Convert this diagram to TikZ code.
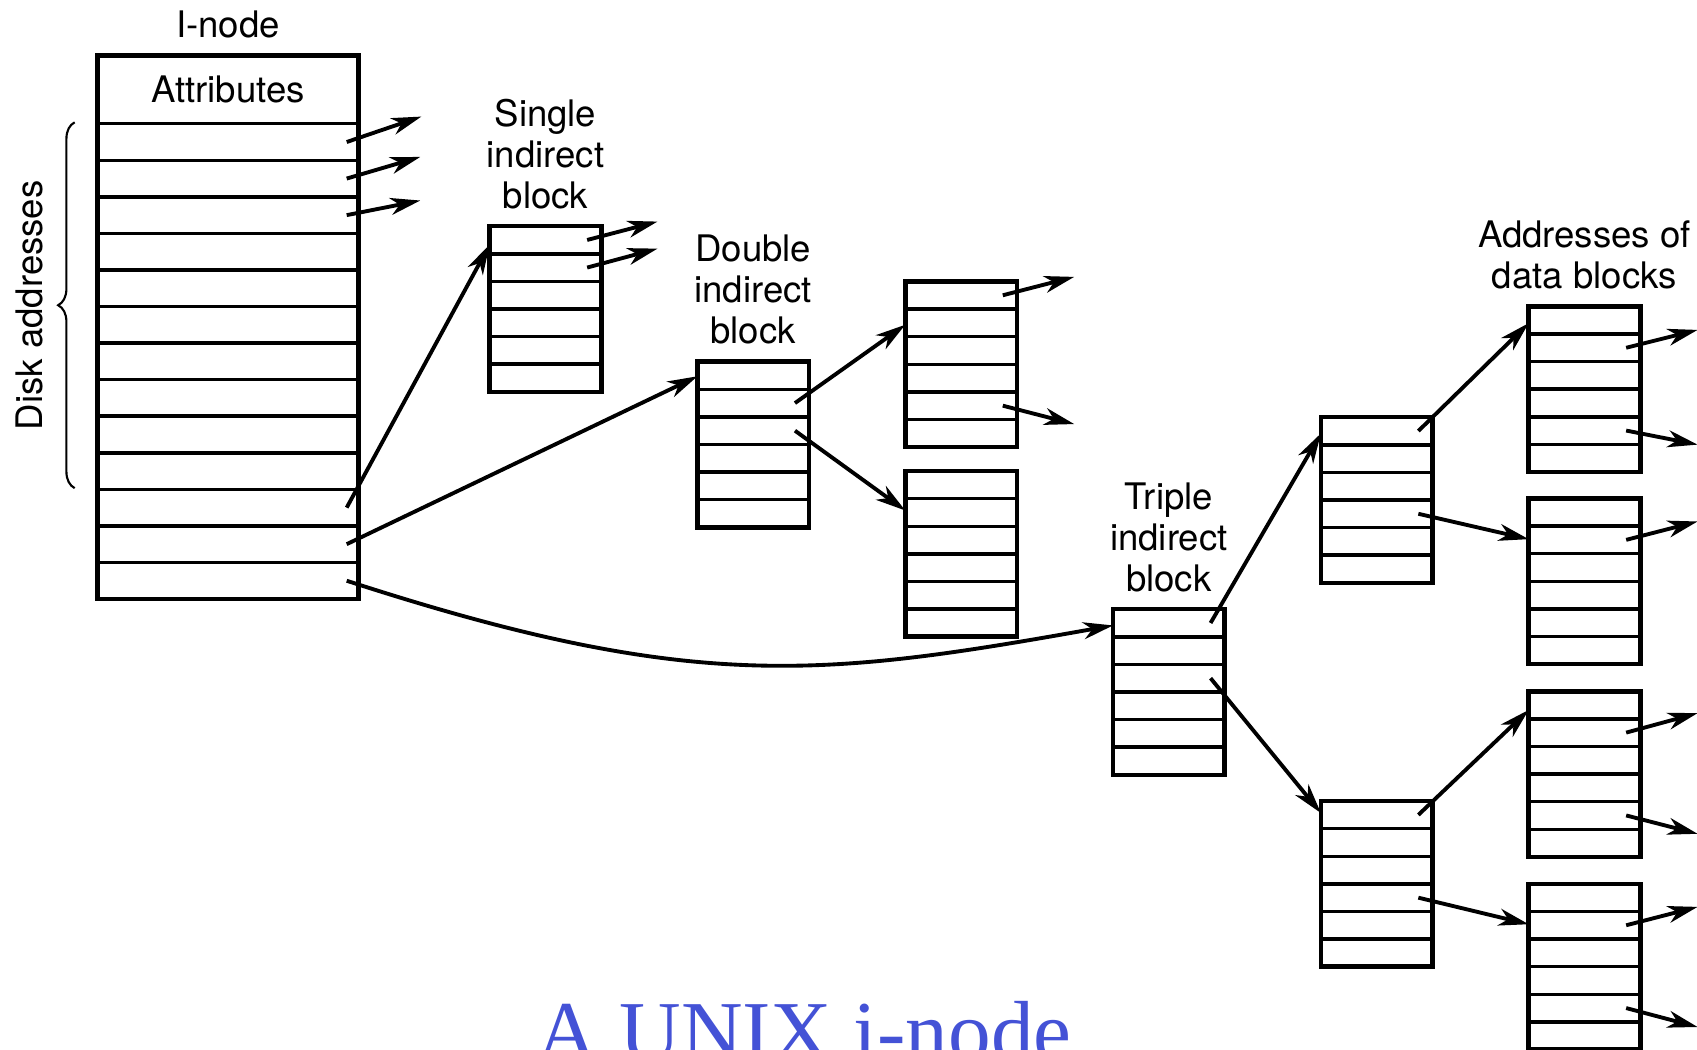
\documentclass[tikz,border=0pt]{standalone}
\usepackage{fontspec}
\setmainfont{TeX Gyre Heros}
\newfontfamily\captionserif{Liberation Serif}
\usetikzlibrary{positioning, calc, arrows.meta, decorations.pathreplacing}
\definecolor{captionblue}{RGB}{68,82,214}

\begin{document}
\begin{tikzpicture}[x=0.010823cm, y=-0.010823cm,
        inodenode/.style={rectangle, draw, line width=1.3pt, minimum width=2.606cm, minimum height=5.436cm, inner sep=0pt, outer sep=0pt},
        blocknode/.style={rectangle, draw, line width=1.3pt, minimum width=1.115cm, minimum height=1.656cm, inner sep=0pt, outer sep=0pt},
        labelnode/.style={align=center, inner sep=0pt, font=\fontsize{10.4}{11.7}\selectfont},
        rowline/.style={line width=1pt},
        pointer/.style={-{Stealth[length=3mm, width=1.7mm, inset=0.9mm]}, line width=1.1pt},
        bracenode/.style={decorate, decoration={brace, amplitude=4.7pt}, line width=0.6pt},
        ]
        \useasboundingbox (0,0) rectangle (1568,970);

        %Nodes
        \node[inodenode]  (inode) at (210.6,302.35) {};
        \node[blocknode]  (sgl)   at (504,285.5)  {};
        \node[blocknode]  (dbl)   at (696,410.7)  {};
        \node[blocknode]  (dblA)  at (888,336.6)  {};
        \node[blocknode]  (dblB)  at (888,511.8)  {};
        \node[blocknode]  (tpl)   at (1080,639.4) {};
        \node[blocknode]  (tplA)  at (1272,462)   {};
        \node[blocknode]  (tplB)  at (1272,816.7) {};
        \node[blocknode]  (dataA) at (1464,359.6) {};
        \node[blocknode]  (dataB) at (1464,537.1) {};
        \node[blocknode]  (dataC) at (1464,715.2) {};
        \node[blocknode]  (dataD) at (1464,893.2) {};

        %Labels
        \node[labelnode]  (inodelabel) [above=4.7pt of inode] {I-node};
        \node[labelnode]  (attrlabel)  at ($(inode.north)+(0,31.6)$) {Attributes};
        \node[labelnode, rotate=90] (disklabel) at (27,282) {Disk addresses};
        \node[labelnode]  (sgllabel)   [above=4.7pt of sgl]   {Single\\indirect\\block};
        \node[labelnode]  (dbllabel)   [above=4.7pt of dbl]   {Double\\indirect\\block};
        \node[labelnode]  (tpllabel)   [above=4.7pt of tpl]   {Triple\\indirect\\block};
        \node[labelnode]  (datalabel)  [above=4.7pt of dataA] {Addresses of\\data blocks};
        \node[anchor=base, inner sep=0pt, text=captionblue, font=\captionserif\fontsize{24.25}{28}\selectfont] (caption) at (743,980) {A UNIX i-node};

        %Rows
        \foreach \k in {0,...,12}
            \draw[rowline] ($(inode.north west)+(0,{63.2+\k*33.78})$) -- ($(inode.north east)+(0,{63.2+\k*33.78})$);
        \foreach \b in {sgl,dbl,dblA,dblB,tpl,tplA,tplB,dataA,dataB,dataC,dataD}
            \foreach \k in {1,...,5}
                \draw[rowline] ($(\b.north west)!\k/6!(\b.south west)$) -- ($(\b.north east)!\k/6!(\b.south east)$);
        \draw[bracenode] (69,451) -- (69,113);

        %Pointer slots
        \foreach \r in {1,2,3,11,12,13}
            \coordinate (inode-\r) at ($(inode.north east)+(-10.7,{63.2+(\r-0.5)*33.78})$);
        \foreach \b/\r in {sgl/1,sgl/2,dbl/2,dbl/3,dblA/1,dblA/5,tpl/1,tpl/3,tplA/1,tplA/4,tplB/1,tplB/4,dataA/2,dataA/5,dataB/2,dataC/2,dataC/5,dataD/2,dataD/5}
            \coordinate (\b-\r) at ($(\b.north east)+(-13,{(\r-0.5)*25.5})$);

        %Lines to data blocks
        \foreach \p/\dx/\dy in {inode-1/69/-23.5,inode-2/68/-20,inode-3/68/-13.5,sgl-1/65/-17,sgl-2/65/-17.5,dblA-1/66/-17,dblA-5/66/17,dataA-2/66/-16.5,dataA-5/66/13,dataB-2/66/-17,dataC-2/66/-18,dataC-5/66/17,dataD-2/66/-17,dataD-5/66/17.5}
        {
            \coordinate (\p-end) at ($(\p)+(\dx,\dy)$);
            \draw[pointer] (\p) -- (\p-end);
        }

        %Lines between blocks
        \draw[pointer] (inode-11) -- ($(sgl.north west)+(0,17)$);
        \draw[pointer] (inode-12) -- ($(dbl.north west)+(0,13.5)$);
        \draw[pointer] (inode-13) .. controls +(320,104) and +(-269,48) .. ($(tpl.north west)+(0,15)$);
        \draw[pointer] (dbl-2) -- ($(dblA.north west)+(0,40)$);
        \draw[pointer] (dbl-3) -- ($(dblB.north west)+(0,36.4)$);
        \draw[pointer] (tpl-1) -- ($(tplA.north west)+(0,15)$);
        \draw[pointer] (tpl-3) -- ($(tplB.north west)+(0,11)$);
        \draw[pointer] (tplA-1) -- ($(dataA.north west)+(0,15.5)$);
        \draw[pointer] (tplA-4) -- ($(dataB.north west)+(0,37.6)$);
        \draw[pointer] (tplB-1) -- ($(dataC.north west)+(0,17.3)$);
        \draw[pointer] (tplB-4) -- ($(dataD.north west)+(0,37.3)$);
\end{tikzpicture}
\end{document}
